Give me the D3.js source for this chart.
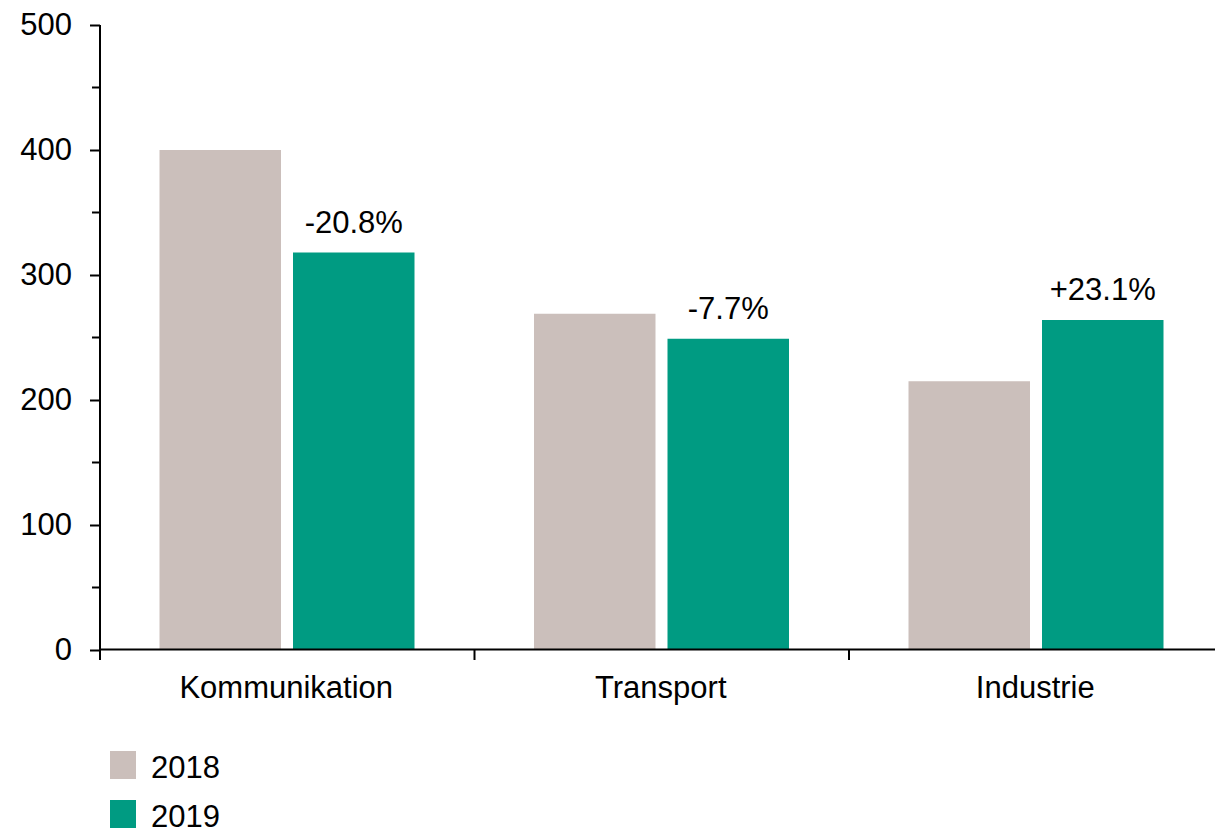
<!DOCTYPE html>
<html>
<head>
<meta charset="utf-8">
<script src="https://cdn.jsdelivr.net/npm/d3@7"></script>
<style>
    body { margin: 0; background: #fff; }
    text { font-family: "Liberation Sans", Arial, sans-serif; fill: #000; }
</style>
</head>
<body>
<svg id="chart" width="1215" height="828"></svg>
<script>
var categories = ["Kommunikation", "Transport", "Industrie"];
var years = ["2018", "2019"];
var values2018 = [400, 269, 215];
var values2019 = [318, 249, 264];
var changeLabels = ["-20.8%", "-7.7%", "+23.1%"];
var yTicks = [0, 100, 200, 300, 400, 500];

function drawChart() {
    var svg = d3.select("#chart"),
        margin = {left: 100, right: 1223.5, top: 25, bottom: 650},
        fontSize = "31px";

    var color = d3.scaleOrdinal().domain(years).range(["#cbbfbb", "#009b82"]);

    var x = d3.scaleBand().domain(categories).range([margin.left, margin.right]);
    var y = d3.scaleLinear().domain([0, 500]).range([margin.bottom, margin.top]);

    var pad = 59.5, barW = 121.5, gap = 12;

    var data = categories.map(function(c, i) {
        return {cat: c, v: [values2018[i], values2019[i]], label: changeLabels[i]};
    });

    var group = svg.selectAll(".cat")
        .data(data)
        .enter().append("g")
        .attr("class", "cat")
        .attr("transform", function(d) { return "translate(" + x(d.cat) + ",0)"; });

    group.selectAll("rect")
        .data(function(d) { return d.v.map(function(v, j) { return {v: v, year: years[j], j: j}; }); })
        .enter().append("rect")
        .attr("x", function(d) { return pad + d.j * (barW + gap); })
        .attr("width", barW)
        .attr("y", function(d) { return y(d.v); })
        .attr("height", function(d) { return y(0) - y(d.v); })
        .attr("fill", function(d) { return color(d.year); });

    group.append("text")
        .attr("x", pad + barW + gap + barW / 2)
        .attr("y", function(d) { return y(d.v[1]) - 20; })
        .attr("text-anchor", "middle")
        .style("font-size", fontSize)
        .text(function(d) { return d.label; });

    // y axis
    var yAxis = svg.append("g")
        .attr("transform", "translate(" + margin.left + ",0)")
        .call(d3.axisLeft(y).tickValues(yTicks).tickSize(10).tickPadding(18));
    yAxis.select(".domain").attr("d", "M0," + (margin.bottom + 10) + "V" + margin.top).attr("stroke-width", 2);
    yAxis.selectAll("line").attr("stroke-width", 2);
    yAxis.selectAll("text").style("font-size", fontSize).style("font-family", "Liberation Sans, Arial, sans-serif");

    svg.append("g")
        .selectAll("line")
        .data(d3.range(50, 500, 100))
        .enter().append("line")
        .attr("x1", margin.left - 8).attr("x2", margin.left)
        .attr("y1", function(d) { return y(d); })
        .attr("y2", function(d) { return y(d); })
        .attr("stroke", "#000").attr("stroke-width", 2);

    // x axis
    var xg = svg.append("g");
    xg.append("line")
        .attr("x1", margin.left).attr("x2", 1215)
        .attr("y1", margin.bottom - 0.5).attr("y2", margin.bottom - 0.5)
        .attr("stroke", "#000").attr("stroke-width", 2);
    xg.selectAll(".tk")
        .data(categories)
        .enter().append("line")
        .attr("x1", function(d) { return x(d); })
        .attr("x2", function(d) { return x(d); })
        .attr("y1", margin.bottom).attr("y2", margin.bottom + 10)
        .attr("stroke", "#000").attr("stroke-width", 2);
    xg.selectAll(".lbl")
        .data(categories)
        .enter().append("text")
        .attr("x", function(d) { return x(d) + x.bandwidth() / 2 - 1; })
        .attr("y", 698)
        .attr("text-anchor", "middle")
        .style("font-size", fontSize)
        .text(function(d) { return d; });

    // legend
    var legend = svg.selectAll(".legend")
        .data(years)
        .enter().append("g")
        .attr("transform", function(d, i) { return "translate(110," + (751 + i * 49) + ")"; });
    legend.append("rect")
        .attr("width", 26).attr("height", 28)
        .attr("fill", function(d) { return color(d); });
    legend.append("text")
        .attr("x", 41).attr("y", 27)
        .style("font-size", fontSize)
        .text(function(d) { return d; });
}

drawChart();
</script>
</body>
</html>
